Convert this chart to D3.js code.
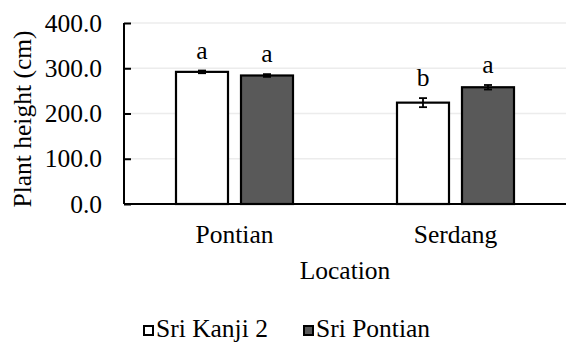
<!DOCTYPE html>
<html>
<head>
<meta charset="utf-8">
<script src="https://cdn.jsdelivr.net/npm/d3@7"></script>
</head>
<body style="margin:0; background:#fff">
<div class="chart"></div>
<script>
// data
var locations = ["Pontian", "Serdang"];
var varieties = ["Sri Kanji 2", "Sri Pontian"];
var heights = [[292, 284], [224, 258]];
var errors = [[3, 3], [10, 5]];
var letters = [["a", "a"], ["b", "a"]];
var yTicks = [0, 100, 200, 300, 400];
var colors = ["#ffffff", "#595959"];

var font = "Liberation Serif";
var fontSize = 25.5;

var svgWidth = 566;
var svgHeight = 342;

var margin = { top: 23, right: 0, bottom: 138, left: 124 };
var width = svgWidth - margin.left - margin.right;
var height = svgHeight - margin.top - margin.bottom;

var svg = d3.select(".chart")
  .append("svg")
  .attr("width", svgWidth)
  .attr("height", svgHeight)
  .attr("font-family", font);

var chartGroup = svg.append("g")
  .attr("transform", `translate(${margin.left}, ${margin.top})`);

var x0 = d3.scaleBand()
  .domain(locations)
  .range([0, width]);

var x1 = d3.scaleBand()
  .domain(varieties)
  .range([0, 117])
  .paddingInner(0.2);

var y = d3.scaleLinear()
  .domain([0, 400])
  .range([height, 0]);

// gridlines
chartGroup.selectAll(".grid")
  .data(yTicks.slice(1))
  .enter()
  .append("line")
  .attr("x1", 0)
  .attr("x2", width)
  .attr("y1", d => y(d))
  .attr("y2", d => y(d))
  .attr("stroke", "#ececec")
  .attr("stroke-width", 1.5);

// y axis, ticks pointing inside
var leftAxis = d3.axisLeft(y)
  .tickValues(yTicks)
  .tickSize(-7)
  .tickPadding(22)
  .tickFormat(d3.format(".1f"));

var yAxis = chartGroup.append("g").call(leftAxis);
// drop the axis' own sans-serif font so the serif one is inherited
yAxis.attr("font-family", null).attr("font-size", null);
yAxis.select(".domain").attr("stroke", "#000").attr("stroke-width", 2)
  .attr("d", `M0,${height}V0`);
yAxis.selectAll(".tick line").attr("stroke", "#000").attr("stroke-width", 2);
yAxis.selectAll(".tick text")
  .attr("fill", "#000")
  .attr("font-family", font)
  .attr("font-size", fontSize);

// bars
var rows = [];
locations.forEach(function(loc, i) {
  varieties.forEach(function(v, j) {
    rows.push({ loc: loc, variety: v, j: j, value: heights[i][j], err: errors[i][j], letter: letters[i][j] });
  });
});

function barX(d) {
  return x0(d.loc) + x0.bandwidth() / 2 - 58.5 + x1(d.variety);
}

chartGroup.selectAll(".bar")
  .data(rows)
  .enter()
  .append("rect")
  .attr("class", "bar")
  .attr("x", d => barX(d))
  .attr("y", d => y(d.value))
  .attr("width", x1.bandwidth())
  .attr("height", d => height - y(d.value))
  .attr("fill", d => colors[d.j])
  .attr("stroke", "#000")
  .attr("stroke-width", 2.2);

// error bars
var errG = chartGroup.selectAll(".err")
  .data(rows)
  .enter()
  .append("g")
  .attr("stroke", "#000")
  .attr("stroke-width", 1.8);

errG.append("line")
  .attr("x1", d => barX(d) + x1.bandwidth() / 2)
  .attr("x2", d => barX(d) + x1.bandwidth() / 2)
  .attr("y1", d => y(d.value - d.err))
  .attr("y2", d => y(d.value + d.err));

errG.selectAll(".cap")
  .data(d => [{ d: d, v: d.value - d.err }, { d: d, v: d.value + d.err }])
  .enter()
  .append("line")
  .attr("x1", c => barX(c.d) + x1.bandwidth() / 2 - 4)
  .attr("x2", c => barX(c.d) + x1.bandwidth() / 2 + 4)
  .attr("y1", c => y(c.v))
  .attr("y2", c => y(c.v));

// significance letters
chartGroup.selectAll(".letter")
  .data(rows)
  .enter()
  .append("text")
  .attr("x", d => barX(d) + x1.bandwidth() / 2)
  .attr("y", d => y(d.value + d.err) - 12)
  .attr("text-anchor", "middle")
  .attr("font-family", font)
  .attr("font-size", fontSize)
  .text(d => d.letter);

// x axis
chartGroup.append("line")
  .attr("x1", 0)
  .attr("x2", width)
  .attr("y1", height)
  .attr("y2", height)
  .attr("stroke", "#000")
  .attr("stroke-width", 2);

chartGroup.selectAll(".cat")
  .data(locations)
  .enter()
  .append("text")
  .attr("x", d => x0(d) + x0.bandwidth() / 2)
  .attr("y", height + 39)
  .attr("text-anchor", "middle")
  .attr("font-family", font)
  .attr("font-size", fontSize)
  .text(d => d);

// axis titles
chartGroup.append("text")
  .attr("x", 221)
  .attr("y", height + 75)
  .attr("text-anchor", "middle")
  .attr("font-family", font)
  .attr("font-size", fontSize)
  .text("Location");

svg.append("text")
  .attr("transform", "translate(31, 119) rotate(-90)")
  .attr("text-anchor", "middle")
  .attr("font-family", font)
  .attr("font-size", fontSize)
  .text("Plant height (cm)");

// legend
var legendX = [143, 303];
var legend = svg.selectAll(".legend")
  .data(varieties)
  .enter()
  .append("g")
  .attr("transform", (d, i) => `translate(${legendX[i]}, 325)`);

legend.append("rect")
  .attr("x", 1)
  .attr("y", 1)
  .attr("width", 9)
  .attr("height", 9)
  .attr("fill", (d, i) => colors[i])
  .attr("stroke", "#000")
  .attr("stroke-width", 2);

legend.append("text")
  .attr("x", 13)
  .attr("y", 12)
  .attr("font-family", font)
  .attr("font-size", fontSize)
  .text(d => d);
</script>
</body>
</html>
